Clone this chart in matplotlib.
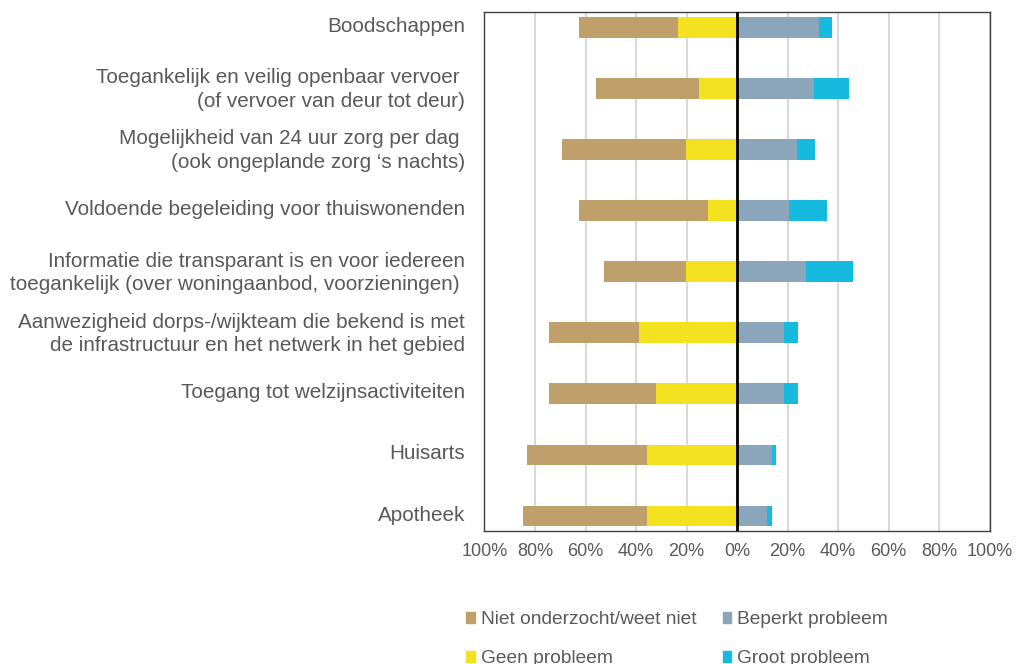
import matplotlib

matplotlib.use("Agg")
import matplotlib.pyplot as plt  # noqa: E402
import matplotlib.transforms as mtransforms  # noqa: E402
import numpy as np  # noqa: E402
from matplotlib.patches import Patch  # noqa: E402

plt.rcParams["font.family"] = ["Liberation Sans", "DejaVu Sans"]

# --- data (top to bottom) ----------------------------------------------

categories = [
    "Boodschappen",
    "Toegankelijk en veilig openbaar vervoer \n(of vervoer van deur tot deur)",
    "Mogelijkheid van 24 uur zorg per dag \n(ook ongeplande zorg \u2018s nachts)",
    "Voldoende begeleiding voor thuiswonenden",
    "Informatie die transparant is en voor iedereen\ntoegankelijk (over woningaanbod, voorzieningen) ",
    "Aanwezigheid dorps-/wijkteam die bekend is met\nde infrastructuur en het netwerk in het gebied",
    "Toegang tot welzijnsactiviteiten",
    "Huisarts",
    "Apotheek",
]

# percentages; left side = niet onderzocht + geen probleem
niet_onderzocht = [39.2, 41.0, 49.2, 51.1, 32.4, 35.9, 42.5, 47.4, 49.2]
geen_probleem = [23.5, 15.0, 20.1, 11.6, 20.1, 38.7, 32.1, 35.6, 35.6]
# right side
beperkt_probleem = [32.5, 30.6, 23.9, 20.6, 27.2, 18.7, 18.7, 13.9, 12.0]
groot_probleem = [5.0, 13.8, 6.9, 15.2, 18.7, 5.3, 5.3, 1.4, 1.9]

x_ticks = [-100, -80, -60, -40, -20, 0, 20, 40, 60, 80, 100]

C_NIET = "#bfa06b"
C_GEEN = "#f4e11f"
C_BEPERKT = "#8ba6ba"
C_GROOT = "#17badf"
TXT = "#595959"

# --- plot ----------------------------------------------------------------

fig = plt.figure(figsize=(10.17, 6.64), dpi=100)
ax = fig.add_axes([0.4764, 0.2007, 0.4966, 0.7812])

y = np.arange(len(categories))
h = 0.34
geen = np.array(geen_probleem)
niet = np.array(niet_onderzocht)
bep = np.array(beperkt_probleem)
groot = np.array(groot_probleem)

ax.barh(y, -geen, height=h, color=C_GEEN, zorder=2)
ax.barh(y, -niet, left=-geen, height=h, color=C_NIET, zorder=2)
ax.barh(y, bep, height=h, color=C_BEPERKT, zorder=2)
ax.barh(y, groot, left=bep, height=h, color=C_GROOT, zorder=2)

ax.axvline(0, color="black", linewidth=2, zorder=3)

ax.set_xlim(-100, 100)
ax.set_ylim(8.24, -0.25)
ax.set_xticks(x_ticks, [f"{abs(v)}%" for v in x_ticks])
ax.set_yticks(y, categories)
ax.tick_params(axis="y", length=0, pad=14, labelsize=14.9, labelcolor=TXT)
ax.tick_params(axis="x", length=0, pad=9, labelsize=13, labelcolor=TXT)
# labels sit a few pixels above the bar centre in the original
shift = mtransforms.ScaledTranslation(0, 3 / 100, fig.dpi_scale_trans)
for lbl in ax.get_yticklabels():
    lbl.set_linespacing(1.3)
    lbl.set_transform(lbl.get_transform() + shift)

ax.grid(axis="x", color="#d9d9d9", linewidth=1.5, zorder=0)
ax.set_axisbelow(True)
for sp in ax.spines.values():
    sp.set_color("#404040")
    sp.set_linewidth(1)

handles = [
    Patch(color=C_NIET, label="Niet onderzocht/weet niet"),
    Patch(color=C_GEEN, label="Geen probleem"),
    Patch(color=C_BEPERKT, label="Beperkt probleem"),
    Patch(color=C_GROOT, label="Groot probleem"),
]
# the second legend row is cut by the bottom edge, as in the original
fig.legend(
    handles=handles,
    loc="upper left",
    bbox_to_anchor=(466 / 1017, 1 - 611 / 664),
    ncol=2,
    frameon=False,
    fontsize=13.8,
    labelcolor=TXT,
    handlelength=0.46,
    handleheight=0.5,
    handletextpad=0.3,
    columnspacing=1.38,
    labelspacing=1.15,
    borderpad=0,
    borderaxespad=0,
)

fig.savefig("out.png", dpi=100)
plt.close(fig)
